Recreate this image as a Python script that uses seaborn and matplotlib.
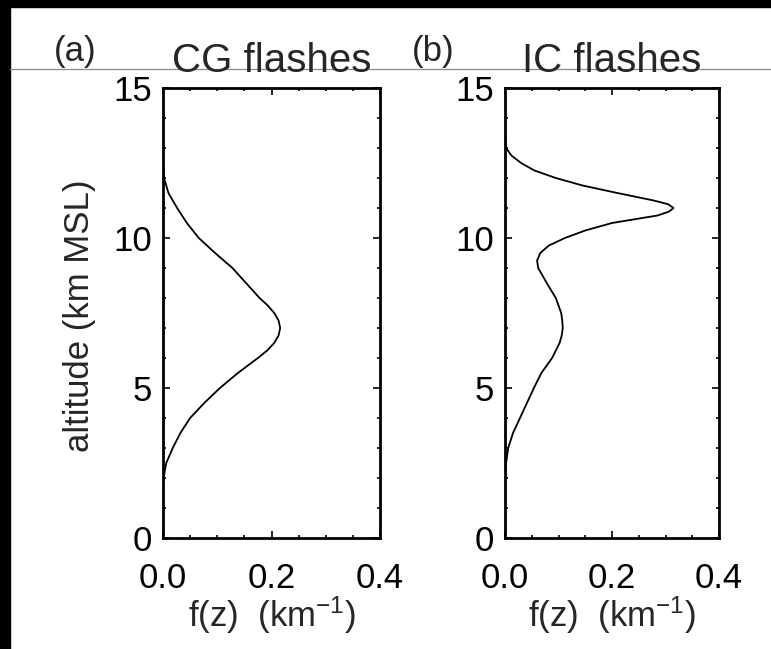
import numpy as np
import pandas as pd
import seaborn as sns
import matplotlib.pyplot as plt
from matplotlib.lines import Line2D
from matplotlib.patches import Rectangle
from matplotlib.ticker import MultipleLocator

# altitude (km MSL) and f(z) values
cg_alt = [0.0, 0.5, 1.0, 1.5, 2.0, 2.5, 3.0, 3.5, 4.0, 4.5, 5.0, 5.5, 6.0, 6.25, 6.5, 6.75,
          7.0, 7.25, 7.5, 7.75, 8.0, 8.5, 9.0, 9.5, 10.0, 10.5, 11.0, 11.5, 12.0, 12.5,
          13.0, 14.0, 15.0]
cg_f = [0.0, 0.0, 0.0, 0.0, 0.001, 0.006, 0.018, 0.032, 0.050, 0.076, 0.105, 0.138, 0.175,
        0.192, 0.205, 0.213, 0.216, 0.213, 0.205, 0.193, 0.178, 0.153, 0.128, 0.096, 0.066,
        0.044, 0.026, 0.010, 0.002, 0.0, 0.0, 0.0, 0.0]

ic_alt = [0.0, 0.5, 1.0, 1.5, 2.0, 2.5, 3.0, 3.5, 4.0, 4.5, 5.0, 5.5, 6.0, 6.5, 6.75, 7.0,
          7.25, 7.5, 8.0, 8.5, 9.0, 9.25, 9.5, 9.75, 10.0, 10.25, 10.5, 10.75, 10.875, 11.0,
          11.125, 11.25, 11.5, 11.75, 12.0, 12.25, 12.5, 12.75, 13.0, 13.5, 14.0, 15.0]
ic_f = [0.0, 0.0, 0.0, 0.0, 0.0, 0.002, 0.006, 0.015, 0.028, 0.041, 0.054, 0.068, 0.088,
        0.102, 0.106, 0.108, 0.107, 0.105, 0.095, 0.078, 0.062, 0.060, 0.066, 0.082, 0.112,
        0.150, 0.200, 0.285, 0.306, 0.315, 0.305, 0.278, 0.210, 0.145, 0.095, 0.055, 0.030,
        0.012, 0.002, 0.0, 0.0, 0.0]

panel_tags = ["(a)", "(b)"]
panel_titles = ["CG flashes", "IC flashes"]
x_ticks = [0.0, 0.2, 0.4]
y_ticks = [0, 5, 10, 15]

sns.set_style("ticks")
plt.rcParams['font.family'] = ['Liberation Sans', 'DejaVu Sans']
plt.rcParams['mathtext.default'] = 'regular'

W, H = 771, 649
fig = plt.figure(figsize=(W / 100, H / 100), dpi=100)
fig.patch.set_facecolor("white")

# black frame strips (top / left) and the thin grey rule
fig.add_artist(Rectangle((0, 1 - 7 / H), 1, 7 / H, transform=fig.transFigure,
                         color="black", zorder=0))
fig.add_artist(Rectangle((0, 0), 10 / W, 1, transform=fig.transFigure,
                         color="black", zorder=0))
fig.add_artist(Line2D([10 / W, 1], [1 - 69 / H, 1 - 69 / H], transform=fig.transFigure,
                      color="#8a8a8a", lw=0.9, zorder=1))

lefts = [163, 505]
widths = [217, 214]
top, bottom = 88, 538
tag_x = [75, 433]

data = [pd.DataFrame({"f": cg_f, "alt": cg_alt}),
        pd.DataFrame({"f": ic_f, "alt": ic_alt})]

for i in range(2):
    ax = fig.add_axes([lefts[i] / W, (H - bottom) / H, widths[i] / W, (bottom - top) / H])
    sns.lineplot(data=data[i], x="f", y="alt", orient="y", color="black", lw=1.3, ax=ax)
    ax.set_xlim(0, 0.4)
    ax.set_ylim(0, 15)
    ax.set_xticks(x_ticks)
    ax.set_xticklabels([f"{v:.1f}" for v in x_ticks])
    ax.set_yticks(y_ticks)
    ax.xaxis.set_minor_locator(MultipleLocator(0.05))
    ax.yaxis.set_minor_locator(MultipleLocator(1))
    ax.tick_params(which="both", direction="in", top=True, right=True, width=1.2, colors="black")
    ax.tick_params(which="major", length=5, labelsize=25)
    ax.tick_params(which="minor", length=2.5)
    ax.tick_params(axis="x", which="major", pad=17)
    ax.tick_params(axis="y", which="major", pad=8)
    for s in ax.spines.values():
        s.set_visible(True)
        s.set_linewidth(2)
        s.set_color("black")
    ax.set_xlabel("")
    ax.set_ylabel("")

    cx = (lefts[i] + widths[i] / 2) / W
    fig.text(cx, 1 - 72 / H, panel_titles[i], ha="center", va="baseline", fontsize=29)
    fig.text(tag_x[i] / W, 1 - 61 / H, panel_tags[i], ha="center", va="baseline", fontsize=25)
    fig.text(cx, 1 - 615 / H, "f(z)  (km$^{-1}$)", ha="center", va="center", fontsize=25)

fig.text(80 / W, 1 - 316 / H, "altitude (km MSL)", rotation=90, ha="center", va="center",
         fontsize=25)

fig.savefig("out.png", dpi=100)
